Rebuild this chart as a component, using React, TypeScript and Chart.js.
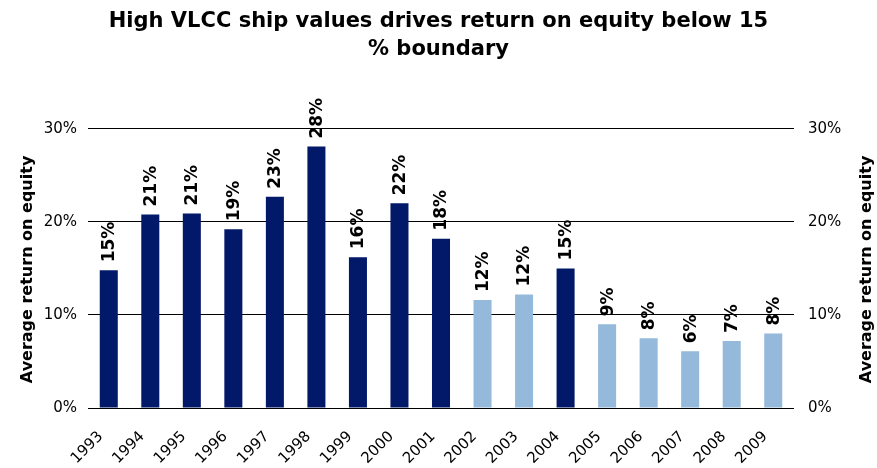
import React, { useEffect, useRef } from 'react';
import { Chart, registerables } from 'chart.js';

Chart.register(...registerables);

const years = ['1993', '1994', '1995', '1996', '1997', '1998', '1999', '2000', '2001', '2002', '2003', '2004', '2005', '2006', '2007', '2008', '2009'];
const roe = [14.8, 20.8, 20.9, 19.2, 22.7, 28.1, 16.2, 22.0, 18.2, 11.6, 12.2, 15.0, 9.0, 7.5, 6.1, 7.2, 8.0];
const titleLines = ['High VLCC ship values drives return on equity below 15', '% boundary'];
const axisTitle = 'Average return on equity';
const boundary = 15;

const FONT = '"DejaVu Sans", Verdana, sans-serif';
const DARK = '#021868';
const LIGHT = '#95b9da';

const labelPlugin = {
  id: 'barLabels',
  afterDatasetsDraw(chart: any) {
    const ctx = chart.ctx;
    const meta = chart.getDatasetMeta(0);
    ctx.save();
    ctx.fillStyle = '#000';
    ctx.font = `bold 17px ${FONT}`;
    ctx.textAlign = 'left';
    ctx.textBaseline = 'middle';
    meta.data.forEach((bar: any, i: number) => {
      ctx.save();
      ctx.translate(bar.x + 1, bar.y - 8);
      ctx.rotate(-Math.PI / 2);
      ctx.fillText(`${Math.round(roe[i])}%`, 0, 0);
      ctx.restore();
    });
    ctx.font = `bold 16px ${FONT}`;
    ctx.textAlign = 'center';
    const cy = (chart.chartArea.top + chart.chartArea.bottom) / 2 + 1;
    [28, chart.width - 10].forEach((x) => {
      ctx.save();
      ctx.translate(x, cy);
      ctx.rotate(-Math.PI / 2);
      ctx.fillText(axisTitle, 0, 0);
      ctx.restore();
    });
    ctx.restore();
  },
};

export default function App() {
  const ref = useRef<HTMLCanvasElement>(null);
  useEffect(() => {
    document.body.style.margin = '0';
    const chart = new Chart(ref.current as HTMLCanvasElement, {
      type: 'bar',
      data: {
        labels: years,
        datasets: [
          {
            data: roe,
            backgroundColor: (c: any) => (Math.round(roe[c.dataIndex]) >= boundary ? DARK : LIGHT),
            borderWidth: 0,
            barPercentage: 0.434,
            categoryPercentage: 1,
          },
        ],
      },
      options: {
        animation: false,
        responsive: true,
        maintainAspectRatio: false,
        plugins: {
          legend: { display: false },
          tooltip: { enabled: false },
          title: {
            display: true,
            text: titleLines,
            color: '#000',
            font: { family: FONT, size: 21, weight: 'bold', lineHeight: 1.33 },
            padding: { top: 8, bottom: 65 },
          },
        },
        scales: {
          x: {
            grid: { display: false },
            border: { display: false },
            ticks: {
              color: '#000',
              font: { family: FONT, size: 15 },
              maxRotation: 45,
              minRotation: 45,
              autoSkip: false,
              padding: 12,
              labelOffset: -8,
            },
            afterFit: (s: any) => {
              s.height = 60;
            },
          },
          y: {
            position: 'left',
            min: 0,
            max: 30,
            grid: { color: '#000', lineWidth: 1, drawTicks: false },
            border: { display: false },
            ticks: {
              stepSize: 10,
              color: '#000',
              padding: 11,
              font: { family: FONT, size: 15 },
              callback: (v: any) => `${v}%`,
            },
            afterFit: (s: any) => {
              s.width = 88;
            },
          },
          y1: {
            position: 'right',
            min: 0,
            max: 30,
            grid: { display: false, drawTicks: false },
            border: { display: false },
            ticks: {
              stepSize: 10,
              color: '#000',
              padding: 14,
              font: { family: FONT, size: 15 },
              callback: (v: any) => `${v}%`,
            },
            afterFit: (s: any) => {
              s.width = 83;
            },
          },
        },
      },
      plugins: [labelPlugin],
    });
    return () => chart.destroy();
  }, []);
  return (
    <div style={{ width: 877, height: 468, position: 'relative', background: '#fff' }}>
      <canvas ref={ref} />
    </div>
  );
}
